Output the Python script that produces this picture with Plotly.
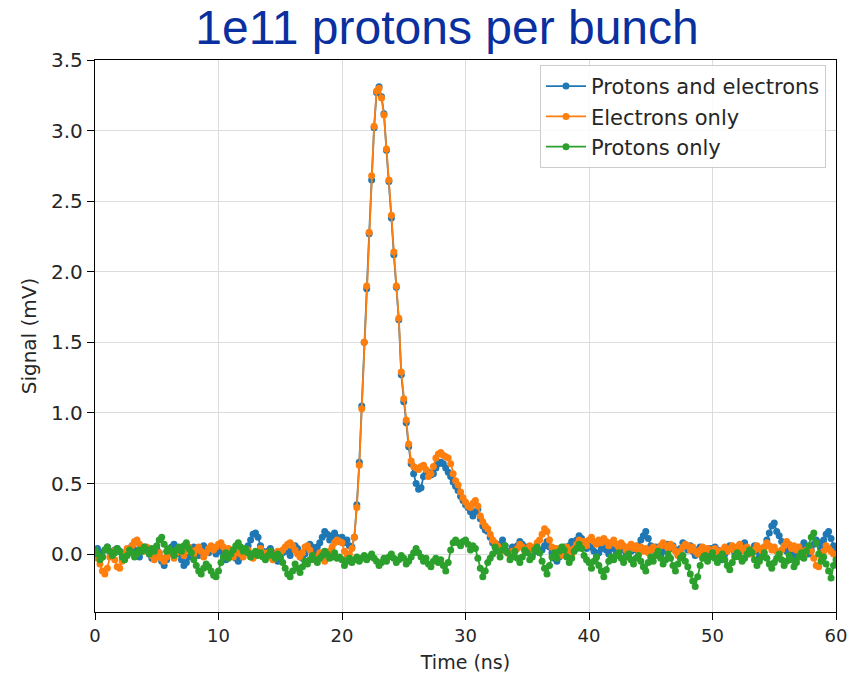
import numpy as np
import plotly.graph_objects as go

# Time axis: 0..60 ns, 0.2 ns sampling
time_ns = np.round(np.arange(0, 60.0001, 0.2), 1)

protons_and_electrons = [
    0.02, 0.04, 0.01, -0.02, 0.03, 0.05, 0.02, -0.01, 0.03, 0.04,
    0.02, 0.00, -0.03, 0.01, 0.04, 0.06, 0.03, 0.01, -0.02, 0.02,
    0.05, 0.03, 0.00, -0.03, 0.02, 0.04, 0.01, -0.05, -0.08, -0.04,
    0.01, 0.05, 0.07, 0.04, 0.00, -0.04, -0.08, -0.06, -0.02, 0.03,
    0.05, 0.02, -0.01, 0.03, 0.06, 0.04, 0.01, 0.05, 0.03, 0.00,
    0.04, 0.02, -0.02, -0.04, 0.00, 0.03, 0.01, -0.03, -0.05, -0.02,
    0.01, 0.03, 0.06, 0.10, 0.14, 0.15, 0.12, 0.06, 0.02, -0.01,
    0.02, 0.04, 0.01, -0.02, -0.05, -0.03, 0.01, 0.04, 0.02, -0.01,
    0.03, 0.06, 0.04, 0.01, -0.03, 0.00, 0.04, 0.07, 0.05, 0.02,
    0.05, 0.08, 0.12, 0.16, 0.14, 0.10, 0.13, 0.15, 0.12, 0.09,
    0.12, 0.08, 0.10, 0.06, 0.05, 0.12, 0.35, 0.65, 1.05, 1.50,
    1.88, 2.27, 2.65, 3.02, 3.27, 3.31, 3.24, 3.12, 2.86, 2.64,
    2.38, 2.12, 1.89, 1.66, 1.27, 1.08, 0.93, 0.76, 0.64, 0.57,
    0.50, 0.46, 0.47, 0.55, 0.57, 0.58, 0.56, 0.57, 0.61, 0.64,
    0.65, 0.64, 0.61, 0.58, 0.55, 0.51, 0.48, 0.45, 0.41, 0.38,
    0.35, 0.33, 0.30, 0.27, 0.30, 0.32, 0.25, 0.20, 0.17, 0.16,
    0.12, 0.08, 0.05, 0.04, 0.07, 0.10, 0.06, 0.02, 0.01, 0.05,
    0.03, 0.06, 0.09, 0.07, 0.03, 0.05, 0.02, -0.01, 0.02, 0.04,
    0.01, 0.03, 0.06, 0.09, 0.05, 0.01, -0.03, -0.05, -0.02, 0.02,
    0.05, 0.02, 0.06, 0.09, 0.06, 0.10, 0.13, 0.11, 0.07, 0.04,
    0.08, 0.05, 0.02, -0.02, 0.01, 0.04, 0.07, 0.03, 0.00, 0.04,
    0.06, 0.02, -0.01, 0.03, 0.05, 0.01, -0.02, 0.02, 0.05, 0.03,
    0.06, 0.10, 0.13, 0.16, 0.11, 0.06, 0.03, 0.05, 0.02, -0.01,
    0.02, 0.05, 0.07, 0.04, 0.06, 0.03, 0.00, 0.04, 0.08, 0.05,
    0.03, 0.06, 0.02, -0.01, 0.03, 0.05, 0.01, -0.02, 0.02, 0.04,
    0.02, 0.05, 0.03, -0.01, -0.04, 0.00, 0.03, 0.06, 0.04, 0.01,
    0.04, 0.02, 0.05, 0.08, 0.04, 0.00, 0.03, 0.06, 0.02, -0.02,
    0.01, 0.05, 0.10, 0.15, 0.20, 0.22, 0.16, 0.13, 0.09, 0.05,
    0.02, 0.06, 0.03, 0.00, -0.03, 0.02, 0.05, 0.08, 0.04, 0.00,
    0.03, 0.07, 0.10, 0.08, 0.04, 0.10, 0.14, 0.16, 0.11, 0.06,
    0.03,
]

electrons_only = [
    0.01, -0.03, -0.07, -0.12, -0.14, -0.10, -0.02, 0.02, -0.04, -0.09,
    -0.10, -0.05, 0.01, 0.04, 0.02, 0.06, 0.09, 0.10, 0.07, 0.03,
    0.02, 0.05, 0.03, -0.01, -0.04, -0.02, 0.01, -0.03, -0.05, -0.02,
    0.02, 0.00, -0.03, 0.01, 0.04, 0.02, -0.01, 0.03, 0.05, 0.02,
    0.00, 0.03, 0.05, 0.02, -0.02, 0.01, 0.04, 0.06, 0.03, 0.05,
    0.07, 0.08, 0.05, 0.02, 0.04, 0.01, -0.02, 0.01, 0.03, 0.00,
    -0.02, 0.01, 0.03, 0.00, -0.03, -0.01, 0.02, 0.04, 0.01, -0.01,
    0.01, -0.02, -0.04, -0.01, 0.02, 0.00, 0.03, 0.05, 0.07, 0.08,
    0.06, 0.03, 0.00, -0.02, 0.01, 0.05, 0.06, 0.03, -0.01, -0.04,
    -0.02, 0.01, -0.03, -0.05, -0.02, 0.02, 0.05, 0.08, 0.10, 0.09,
    0.08, 0.02, -0.02, 0.00, 0.04, 0.12, 0.33, 0.63, 1.03, 1.50,
    1.90, 2.28, 2.68, 3.03, 3.28, 3.30, 3.23, 3.11, 2.87, 2.65,
    2.40, 2.14, 1.90, 1.67, 1.29, 1.10, 0.95, 0.78, 0.66, 0.62,
    0.61, 0.60, 0.62, 0.63, 0.60, 0.55, 0.57, 0.62, 0.68, 0.71,
    0.72, 0.70, 0.69, 0.68, 0.64, 0.57, 0.52, 0.49, 0.44, 0.40,
    0.37, 0.34, 0.33, 0.36, 0.38, 0.34, 0.27, 0.23, 0.20, 0.18,
    0.14, 0.10, 0.08, 0.06, 0.04, 0.03, 0.02, 0.01, -0.01, 0.02,
    0.02, 0.04, 0.07, 0.05, 0.02, 0.04, 0.06, 0.03, 0.05, 0.08,
    0.10, 0.14, 0.18, 0.16, 0.10, 0.05, 0.02, 0.04, 0.01, -0.01,
    0.02, 0.05, 0.03, 0.00, 0.04, 0.07, 0.10, 0.08, 0.09, 0.06,
    0.10, 0.12, 0.09, 0.07, 0.10, 0.08, 0.11, 0.09, 0.06, 0.08,
    0.10, 0.07, 0.05, 0.08, 0.06, 0.03, 0.05, 0.07, 0.04, 0.06,
    0.03, 0.05, 0.02, 0.04, 0.01, 0.03, 0.05, 0.02, 0.04, 0.06,
    0.08, 0.06, 0.04, 0.07, 0.05, 0.02, -0.01, 0.02, 0.05, 0.07,
    0.06, 0.03, 0.05, 0.02, 0.00, 0.03, 0.05, 0.02, 0.04, 0.03,
    0.01, 0.04, 0.02, 0.00, 0.03, 0.05, 0.02, 0.04, 0.06, 0.03,
    0.05, 0.07, 0.04, 0.02, 0.05, 0.03, 0.00, 0.03, 0.06, 0.04,
    0.02, 0.05, 0.08, 0.06, 0.03, 0.05, 0.02, 0.00, 0.03, 0.06,
    0.09, 0.07, 0.04, 0.06, 0.03, 0.05, 0.02, 0.00, 0.03, 0.05,
    0.02, -0.03, -0.08, -0.09, -0.04, 0.02, 0.06, 0.04, 0.02, 0.00,
    -0.01,
]

protons_only = [
    0.03, 0.00, -0.04, -0.02, 0.03, 0.05, 0.02, -0.01, 0.01, 0.04,
    0.02, -0.02, -0.04, -0.01, 0.03, 0.01, -0.02, 0.00, 0.03, 0.02,
    0.05, 0.03, 0.00, 0.04, 0.02, 0.06, 0.10, 0.12, 0.07, 0.02,
    0.04, 0.02, -0.01, 0.03, 0.05, 0.02, 0.06, 0.08, 0.04, 0.01,
    -0.04, -0.08, -0.12, -0.14, -0.10, -0.07, -0.09, -0.12, -0.15, -0.16,
    -0.12, -0.06, -0.02, 0.01, -0.03, 0.00, 0.03, 0.06, 0.08, 0.05,
    0.02, 0.04, 0.01, -0.02, 0.00, 0.02, -0.01, 0.01, -0.02, -0.04,
    -0.01, 0.02, -0.01, -0.03, 0.00, -0.02, -0.06, -0.10, -0.14, -0.16,
    -0.12, -0.07, -0.10, -0.13, -0.09, -0.05, -0.07, -0.04, -0.01, -0.04,
    -0.06, -0.03, -0.01, 0.02, 0.00, -0.03, -0.02, 0.01, -0.03, -0.02,
    -0.04, -0.08, -0.05, -0.03, -0.06, -0.04, -0.02, -0.05, -0.03, -0.01,
    -0.04, -0.02, 0.00, -0.03, -0.05, -0.08, -0.06, -0.03, -0.05, -0.02,
    0.00, -0.03, -0.06, -0.04, -0.01, -0.03, -0.07, -0.05, -0.02, 0.01,
    0.04, 0.01, -0.02, -0.05, -0.03, -0.07, -0.09, -0.05, -0.03, -0.06,
    -0.04, -0.08, -0.12, -0.06, 0.03, 0.08, 0.10, 0.08, 0.06, 0.09,
    0.10, 0.07, 0.03, 0.06, 0.04, -0.03, -0.10, -0.16, -0.12, -0.06,
    -0.03, 0.00, 0.05, 0.02, -0.02, 0.03, 0.06, 0.01, -0.04, -0.02,
    0.02, -0.03, -0.06, -0.02, 0.03, 0.01, -0.04, -0.02, 0.03, 0.05,
    0.01, -0.05, -0.10, -0.14, -0.08, -0.02, 0.01, -0.03, 0.02, 0.05,
    0.03, -0.02, -0.06, -0.03, 0.02, 0.04, 0.07, 0.04, -0.01, -0.04,
    -0.06, -0.10, -0.05, -0.02, -0.08, -0.12, -0.16, -0.11, -0.05, -0.02,
    -0.04, -0.01, 0.01, -0.03, -0.06, -0.02, 0.00, -0.04, -0.07, -0.03,
    -0.01, -0.05, -0.09, -0.12, -0.06, -0.02, -0.05, -0.01, 0.02, -0.03,
    -0.07, -0.04, 0.00, -0.03, -0.08, -0.12, -0.07, -0.03, -0.01, -0.05,
    -0.09, -0.14, -0.19, -0.23, -0.16, -0.08, -0.03, -0.01, -0.05, -0.02,
    0.01, -0.03, -0.06, -0.02, 0.00, -0.04, -0.08, -0.11, -0.06, -0.02,
    0.01, -0.02, -0.05, -0.03, 0.00, 0.03, 0.01, -0.04, -0.08, -0.05,
    -0.02, 0.01, -0.03, -0.07, -0.10, -0.06, -0.03, 0.00, -0.04, -0.08,
    -0.05, -0.01, -0.04, -0.09, -0.06, -0.02, 0.01, -0.03, 0.02, 0.06,
    0.12, 0.15, 0.08, 0.00, -0.05, -0.02, -0.07, -0.12, -0.17, -0.08,
    -0.04,
]

series_names = ["Protons and electrons", "Electrons only", "Protons only"]
series_colors = ["#1f77b4", "#ff7f0e", "#2ca02c"]
series_values = [protons_and_electrons, electrons_only, protons_only]

x_ticks = [0, 10, 20, 30, 40, 50, 60]
y_ticks = [0.0, 0.5, 1.0, 1.5, 2.0, 2.5, 3.0, 3.5]

fig = go.Figure()
for name, color, vals in zip(series_names, series_colors, series_values):
    n = min(len(vals), len(time_ns))
    fig.add_trace(go.Scatter(
        x=time_ns[:n], y=vals[:n], name=name, mode="lines+markers",
        line=dict(color=color, width=1.8),
        marker=dict(color=color, size=7),
    ))

text_col = "#262626"
fig.update_layout(
    width=849, height=675,
    margin=dict(l=95, r=13, t=60, b=63),
    paper_bgcolor="white", plot_bgcolor="white",
    title=dict(text="1e11 protons per bunch", x=0.5265, xanchor="center",
               xref="container", y=0.96, yanchor="middle", yref="container",
               font=dict(family="Liberation Sans, Arial", size=48, color="#0a2f9e")),
    showlegend=True,
    legend=dict(x=0.9865, xanchor="right", y=0.991, yanchor="top",
                bgcolor="rgba(255,255,255,0.85)", bordercolor="#cccccc", borderwidth=1,
                font=dict(family="DejaVu Sans", size=21, color=text_col),
                itemwidth=40, tracegroupgap=0),
    xaxis=dict(range=[0, 60], tickvals=x_ticks, ticktext=[str(v) for v in x_ticks],
               automargin=False,
               showgrid=True, gridcolor="#dcdcdc", gridwidth=1,
               showline=True, linecolor="black", linewidth=1.3, mirror=True,
               ticks="outside", ticklen=7, tickcolor="black",
               tickfont=dict(family="DejaVu Sans", size=18, color=text_col),
               zeroline=False,
               title=dict(text="Time (ns)", font=dict(family="DejaVu Sans", size=19, color=text_col),
                          standoff=10)),
    yaxis=dict(range=[-0.41, 3.5], tickvals=y_ticks, ticktext=[f"{v:.1f}" for v in y_ticks],
               automargin=False,
               showgrid=True, gridcolor="#dcdcdc", gridwidth=1,
               showline=True, linecolor="black", linewidth=1.3, mirror=True,
               ticks="outside", ticklen=7, tickcolor="black",
               tickfont=dict(family="DejaVu Sans", size=20, color=text_col),
               zeroline=False,
               title=dict(text="Signal (mV)", font=dict(family="DejaVu Sans", size=20, color=text_col),
                          standoff=9)),
)

fig.write_html("out.html")
